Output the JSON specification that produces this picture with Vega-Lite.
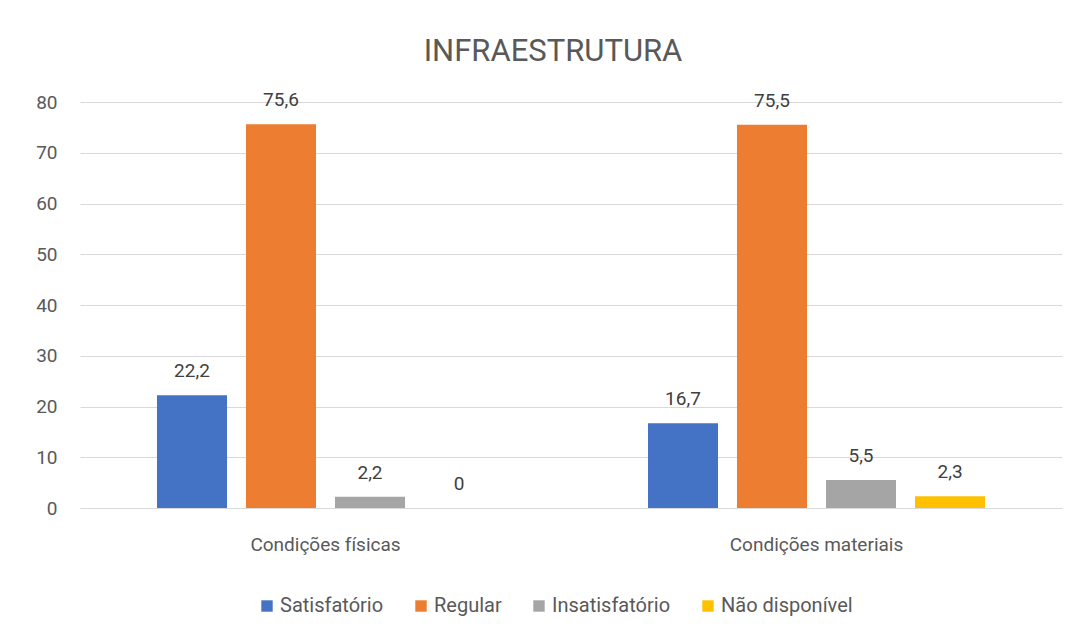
{
  "$schema": "https://vega.github.io/schema/vega-lite/v6.json",
  "autosize": {"type": "none"},
  "width": 982,
  "height": 406,
  "padding": {"left": 80, "top": 102, "right": 14, "bottom": 127},
  "background": "white",
  "config": {"view": {"stroke": null}},
  "title": {
    "text": "INFRAESTRUTURA",
    "anchor": "middle",
    "frame": "group",
    "dx": -18,
    "offset": 23,
    "fontSize": 31,
    "font": "Roboto, sans-serif",
    "fontWeight": "normal",
    "color": "#595959"
  },
  "data": {
    "values": [
      {"categoria": "Condições físicas", "avaliacao": "Satisfatório", "valor": 22.2, "rotulo": "22,2"},
      {"categoria": "Condições físicas", "avaliacao": "Regular", "valor": 75.6, "rotulo": "75,6"},
      {"categoria": "Condições físicas", "avaliacao": "Insatisfatório", "valor": 2.2, "rotulo": "2,2"},
      {"categoria": "Condições físicas", "avaliacao": "Não disponível", "valor": 0, "rotulo": "0"},
      {"categoria": "Condições materiais", "avaliacao": "Satisfatório", "valor": 16.7, "rotulo": "16,7"},
      {"categoria": "Condições materiais", "avaliacao": "Regular", "valor": 75.5, "rotulo": "75,5"},
      {"categoria": "Condições materiais", "avaliacao": "Insatisfatório", "valor": 5.5, "rotulo": "5,5"},
      {"categoria": "Condições materiais", "avaliacao": "Não disponível", "valor": 2.3, "rotulo": "2,3"}
    ]
  },
  "encoding": {
    "x": {
      "field": "categoria", "type": "nominal", "sort": null,
      "scale": {"paddingInner": 0.3136, "paddingOuter": 0.1568},
      "axis": {
        "title": null, "labelAngle": 0, "ticks": false,
        "domainColor": "#d9d9d9", "domainWidth": 1,
        "labelFontSize": 19, "labelColor": "#595959",
        "labelFont": "Roboto, sans-serif",
        "labelPadding": 27
      }
    },
    "xOffset": {
      "field": "avaliacao", "type": "nominal",
      "sort": ["Satisfatório", "Regular", "Insatisfatório", "Não disponível"],
      "scale": {"paddingInner": 0.2135, "paddingOuter": 0}
    },
    "y": {
      "field": "valor", "type": "quantitative",
      "scale": {"domain": [0, 80], "nice": false},
      "axis": {
        "title": null, "values": [0, 10, 20, 30, 40, 50, 60, 70, 80],
        "ticks": false, "domain": false,
        "gridColor": "#d9d9d9", "gridWidth": 1,
        "labelFontSize": 19, "labelColor": "#595959",
        "labelFont": "Roboto, sans-serif",
        "labelPadding": 23
      }
    }
  },
  "layer": [
    {
      "mark": {"type": "bar"},
      "encoding": {
        "color": {
          "field": "avaliacao", "type": "nominal",
          "sort": ["Satisfatório", "Regular", "Insatisfatório", "Não disponível"],
          "scale": {
            "domain": ["Satisfatório", "Regular", "Insatisfatório", "Não disponível"],
            "range": ["#4472C4", "#ED7D31", "#A5A5A5", "#FFC000"]
          },
          "legend": {
            "title": null, "orient": "none", "direction": "horizontal",
            "legendX": 177, "legendY": 494,
            "symbolType": "square", "symbolSize": 130, "symbolStrokeWidth": 0,
            "symbolOpacity": 1,
            "labelFontSize": 20, "labelColor": "#595959",
            "labelFont": "Roboto, sans-serif",
            "labelOffset": 3, "columnPadding": 27
          }
        }
      }
    },
    {
      "mark": {
        "type": "text", "baseline": "alphabetic", "dy": -18,
        "fontSize": 19, "color": "#404040",
        "font": "Roboto, sans-serif"
      },
      "encoding": {
        "text": {"field": "rotulo"}
      }
    }
  ]
}
